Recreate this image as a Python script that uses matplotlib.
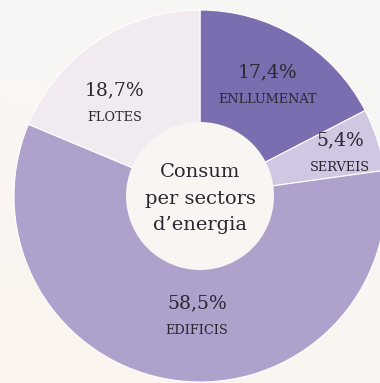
import numpy as np
import matplotlib.pyplot as plt
from matplotlib.patches import Circle

# consum per sectors (%)
sectors = ['ENLLUMENAT', 'SERVEIS', 'EDIFICIS', 'FLOTES']
shares = [17.4, 5.4, 58.5, 18.7]
colors = ['#7b6eb0', '#d0c7e2', '#aea2cd', '#f1ebf1']
title_lines = ['Consum', 'per sectors', 'd\u2019energia']

# label anchors (pixel coords, origin top-left)
label_pos = [(268, 86), (340, 154), (197, 317), (115, 104)]

W, H = 380, 383
fig = plt.figure(figsize=(W / 100, H / 100), dpi=100)
ax = fig.add_axes([0, 0, 1, 1])

# soft paper background, a bit warmer towards the bottom left
yy, xx = np.mgrid[0:1:200j, 0:1:200j]
warm = np.clip(1.2 * (1 - yy) * (1 - 0.5 * xx) - 0.2, 0, 1)[..., None]
top = np.array([0.976, 0.966, 0.960])
bottom = np.array([0.988, 0.955, 0.930])
bg = top * (1 - warm) + bottom * warm
ax.imshow(bg, extent=[0, W, H, 0], origin='upper', zorder=0, aspect='auto')

cx, cy, r_out, r_in = 200, H - 196, 186, 74
ax.pie(shares, colors=colors, startangle=90, counterclock=False,
       center=(cx, cy), radius=r_out, frame=True,
       wedgeprops=dict(edgecolor='white', linewidth=0.8))
ax.add_patch(Circle((cx, cy), r_in, facecolor='#f9f5f2', edgecolor='none', zorder=5))
ax.set_xlim(0, W)
ax.set_ylim(0, H)
ax.set_aspect('auto')
ax.axis('off')

font = 'DejaVu Serif'
ink = '#2b2630'
for name, val, (x, y) in zip(sectors, shares, label_pos):
    pct = f'{val:.1f}'.replace('.', ',') + '%'
    ax.text(x, H - y + 13.5, pct, ha='center', va='center', fontsize=13.5,
            family=font, color=ink, zorder=6)
    ax.text(x, H - y - 13.5, name, ha='center', va='center', fontsize=9.3,
            family=font, color=ink, zorder=6)

# centre caption, one line at a time
for i, line in enumerate(title_lines):
    ax.text(cx, cy - 2.5 + 26.5 * (1 - i), line, ha='center', va='center',
            fontsize=14, family=font, color=ink, zorder=6)

fig.savefig('out.png', dpi=100)
